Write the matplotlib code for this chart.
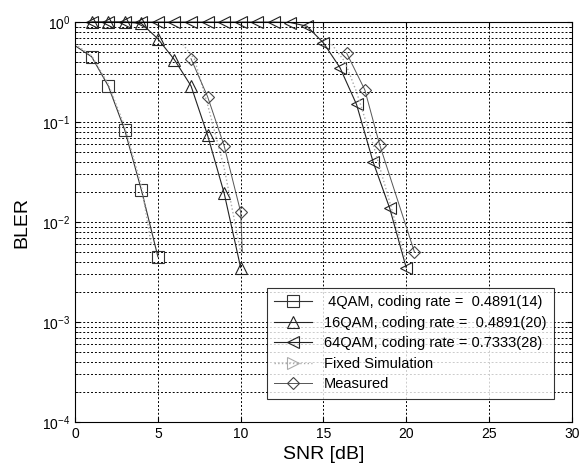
import numpy as np
import matplotlib.pyplot as plt
from matplotlib.ticker import LogLocator, FixedLocator, NullFormatter

plt.rcParams['font.family'] = ['Liberation Sans', 'DejaVu Sans']
plt.rcParams['mathtext.fontset'] = 'custom'
plt.rcParams['mathtext.rm'] = 'Liberation Sans'

# 4QAM, coding rate 0.4891
qam4_snr = [0, 1, 2, 3, 4, 5]
qam4_bler = [0.58, 0.45, 0.23, 0.083, 0.021, 0.0045]

# 16QAM, coding rate 0.4891
qam16_snr = [1, 2, 3, 4, 5, 6, 7, 8, 9, 10]
qam16_bler = [1.0, 1.0, 1.0, 0.97, 0.68, 0.42, 0.23, 0.074, 0.0195, 0.0035]

# 64QAM, coding rate 0.7333
qam64_snr = [1, 2, 3, 4, 5, 6, 7, 8, 9, 10, 11, 12, 13, 14, 15, 16, 17, 18, 19, 20]
qam64_bler = [1.0, 1.0, 1.0, 1.0, 1.0, 1.0, 1.0, 1.0, 1.0, 1.0, 1.0, 1.0, 0.99, 0.91,
              0.62, 0.35, 0.15, 0.04, 0.0138, 0.0035]

# fixed simulation (faint curves)
fix4_snr = [0, 1, 2, 3, 4, 4.6]
fix4_bler = [0.6, 0.46, 0.24, 0.09, 0.023, 0.006]
fix16_snr = [6.5, 7.2, 8, 9, 10]
fix16_bler = [0.6, 0.43, 0.15, 0.035, 0.005]
fix64_snr = [15.5, 16.3, 17, 18, 19, 20]
fix64_bler = [0.6, 0.4, 0.2, 0.06, 0.016, 0.004]

# measured
meas16_snr = [7, 8, 9, 10, 10.1]
meas16_bler = [0.43, 0.18, 0.058, 0.0126, 0.005]
meas64_snr = [16.4, 17.5, 18.4, 20.5]
meas64_bler = [0.49, 0.21, 0.059, 0.005]

fig = plt.figure(figsize=(5.87, 4.70), dpi=100)
ax = fig.add_axes([0.128, 0.102, 0.846, 0.851])

mk = dict(markerfacecolor='none', markersize=8, markeredgewidth=0.8)
ax.plot(qam4_snr, qam4_bler, '-', color='#333333', lw=0.8, marker='s',
        markevery=list(range(1, len(qam4_snr))), markeredgecolor='#333333', **mk,
        label=' 4QAM, coding rate =  0.4891(14)')
ax.plot(qam16_snr, qam16_bler, '-', color='#222222', lw=0.8, marker='^',
        markeredgecolor='#222222', clip_on=False, **mk,
        label='16QAM, coding rate =  0.4891(20)')
ax.plot(qam64_snr, qam64_bler, '-', color='#222222', lw=0.8, marker='<',
        markeredgecolor='#222222', clip_on=False, **mk,
        label='64QAM, coding rate = 0.7333(28)')
ax.plot(fix4_snr, fix4_bler, ':', color='#aaaaaa', lw=1.0)
ax.plot(fix16_snr, fix16_bler, ':', color='#aaaaaa', lw=1.0)
ax.plot(fix64_snr, fix64_bler, ':', color='#aaaaaa', lw=1.0)
ax.plot([], [], ':', color='#aaaaaa', lw=1.0, marker='>', markeredgecolor='#aaaaaa',
        **mk, label='Fixed Simulation')
ax.plot(meas16_snr, meas16_bler, '-', color='#555555', lw=0.7, marker='D',
        markevery=[0, 1, 2, 3], markeredgecolor='#444444',
        markerfacecolor='none', markersize=6.5, markeredgewidth=0.8)
ax.plot(meas64_snr, meas64_bler, '-', color='#555555', lw=0.7, marker='D',
        markeredgecolor='#444444', markerfacecolor='none', markersize=6.5,
        markeredgewidth=0.8, label='Measured')

ax.set_yscale('log')
ax.set_xlim(0, 30)
ax.set_ylim(1e-4, 1)
ax.xaxis.set_major_locator(FixedLocator([0, 5, 10, 15, 20, 25, 30]))
ax.yaxis.set_major_locator(LogLocator(base=10, numticks=10))
ax.yaxis.set_minor_locator(LogLocator(base=10, subs=np.arange(2, 10), numticks=20))
ax.yaxis.set_minor_formatter(NullFormatter())
ax.grid(True, which='major', linestyle=(0, (2, 2)), color='black', lw=0.7)
ax.grid(True, which='minor', axis='y', linestyle=(0, (2, 2)), color='black', lw=0.7)
ax.tick_params(direction='in', which='both', top=True, right=True, labelsize=10)
ax.tick_params(which='minor', length=2)
for s in ax.spines.values():
    s.set_linewidth(0.8)

ax.set_xlabel('SNR [dB]', fontsize=14, labelpad=4)
ax.set_ylabel('BLER', fontsize=14, labelpad=8)

leg = ax.legend(loc='lower right', bbox_to_anchor=(0.978, 0.04), fontsize=10.5,
                frameon=True, fancybox=False, edgecolor='black',
                handlelength=2.6, borderpad=0.5, labelspacing=0.45)
leg.get_frame().set_linewidth(0.8)

fig.savefig('out.png', dpi=100)
